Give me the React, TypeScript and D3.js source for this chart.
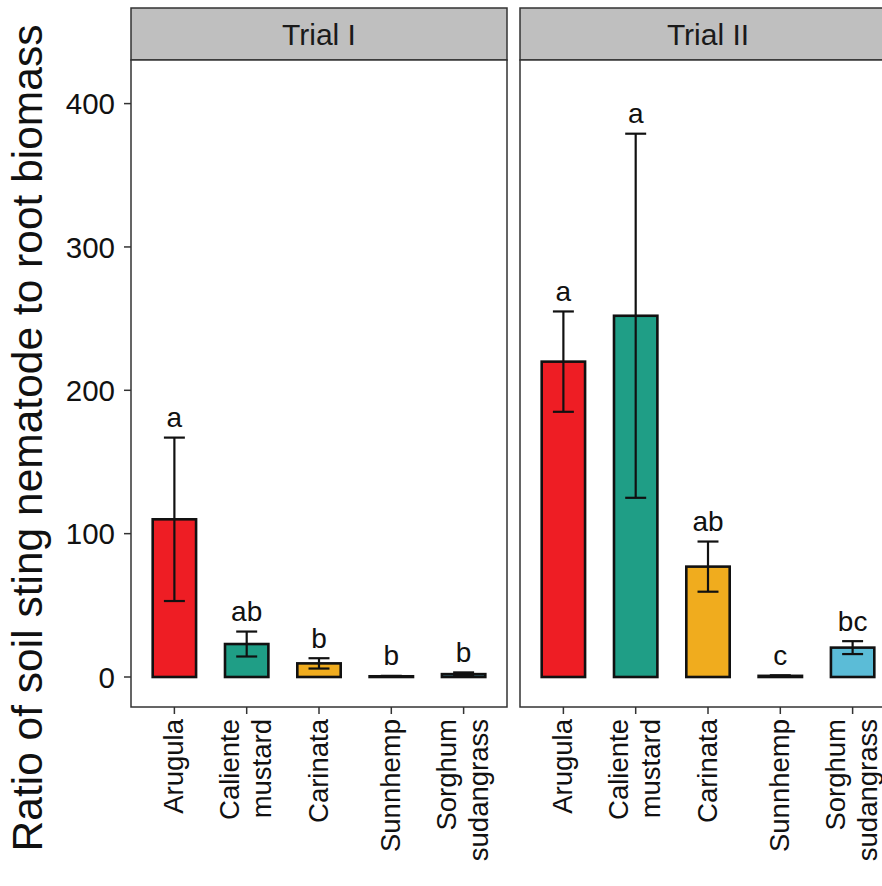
import React from "react";
import * as d3 from "d3";

const categories = ["Arugula", "Caliente mustard", "Carinata", "Sunnhemp", "Sorghum sudangrass"];
const categoryLines = [["Arugula"], ["Caliente", "mustard"], ["Carinata"], ["Sunnhemp"], ["Sorghum", "sudangrass"]];
const colors = ["#EE1D24", "#1F9E86", "#F0AC1E", "#3C3C3C", "#5BBCD7"];
const trials = ["Trial I", "Trial II"];
const trial1Means = [110, 23, 9.5, 0.5, 2];
const trial1SE = [57, 8.7, 3.6, 0.3, 1.2];
const trial1Letters = ["a", "ab", "b", "b", "b"];
const trial2Means = [220, 252, 77, 0.8, 20.5];
const trial2SE = [35, 127, 17.5, 0.4, 4.5];
const trial2Letters = ["a", "a", "ab", "c", "bc"];
const yTicks = [0, 100, 200, 300, 400];

const W = 882;
const H = 886;
const panelTop = 60;
const panelBottom = 707;
const stripTop = 8;
const panelW = 376;
const panelLefts = [131, 520];
const FONT = "'Liberation Sans', Arial, sans-serif";

export default function App() {
  const y = d3.scaleLinear().domain([0, 400]).range([677, 103.6]);
  const data = [
    { means: trial1Means, se: trial1SE, letters: trial1Letters },
    { means: trial2Means, se: trial2SE, letters: trial2Letters },
  ];
  return (
    <div>
      <style>{`body{margin:0;}`}</style>
      <svg width={W} height={H} style={{ display: "block" }} fontFamily={FONT}>
        <rect x={0} y={0} width={W} height={H} fill="#fff" />
        <text
          transform={`translate(42,438) rotate(-90)`}
          textAnchor="middle"
          fontSize={42.5}
          fill="#111"
        >
          Ratio of soil sting nematode to root biomass
        </text>
        {yTicks.map((t) => (
          <g key={t}>
            <line x1={124} x2={131} y1={y(t)} y2={y(t)} stroke="#333" strokeWidth={1.5} />
            <text x={115} y={y(t)} dy="0.36em" textAnchor="end" fontSize={29.5} fill="#111">
              {t}
            </text>
          </g>
        ))}
        {trials.map((trial, ti) => {
          const x0 = panelLefts[ti];
          const step = panelW / (categories.length - 1 + 1.2);
          const x = d3
            .scalePoint<string>()
            .domain(categories)
            .range([x0 + 0.6 * step, x0 + panelW - 0.6 * step]);
          const barW = 0.6 * step;
          const capW = 0.29 * step;
          const d = data[ti];
          return (
            <g key={trial}>
              <rect
                x={x0}
                y={stripTop}
                width={panelW}
                height={panelTop - stripTop}
                fill="#BFBFBF"
                stroke="#333"
                strokeWidth={1.5}
              />
              <text
                x={x0 + panelW / 2}
                y={(stripTop + panelTop) / 2}
                dy="0.36em"
                textAnchor="middle"
                fontSize={30}
                fill="#1a1a1a"
              >
                {trial}
              </text>
              <rect
                x={x0}
                y={panelTop}
                width={panelW}
                height={panelBottom - panelTop}
                fill="#fff"
                stroke="#333"
                strokeWidth={1.5}
              />
              {categories.map((c, i) => {
                const cx = x(c) as number;
                const m = d.means[i];
                const s = d.se[i];
                const top = m + s;
                return (
                  <g key={c}>
                    <rect
                      x={cx - barW / 2}
                      y={y(m)}
                      width={barW}
                      height={Math.max(0, y(0) - y(m))}
                      fill={colors[i]}
                      stroke="#111"
                      strokeWidth={2.6}
                    />
                    <line x1={cx} x2={cx} y1={y(m + s)} y2={y(m - s)} stroke="#111" strokeWidth={2.2} />
                    <line x1={cx - capW / 2} x2={cx + capW / 2} y1={y(m + s)} y2={y(m + s)} stroke="#111" strokeWidth={2.2} />
                    <line x1={cx - capW / 2} x2={cx + capW / 2} y1={y(m - s)} y2={y(m - s)} stroke="#111" strokeWidth={2.2} />
                    <text x={cx} y={y(top) - 10.5} textAnchor="middle" fontSize={28} fill="#111">
                      {d.letters[i]}
                    </text>
                    <line x1={cx} x2={cx} y1={panelBottom} y2={panelBottom + 7} stroke="#333" strokeWidth={1.5} />
                    {categoryLines[i].map((ln, li) => {
                      const nl = categoryLines[i].length;
                      const off = (li - (nl - 1) / 2) * 32 + 8.5;
                      return (
                        <text
                          key={ln}
                          transform={`translate(${cx + off},719) rotate(-90)`}
                          textAnchor="end"
                          fontSize={27.5}
                          fill="#111"
                        >
                          {ln}
                        </text>
                      );
                    })}
                  </g>
                );
              })}
            </g>
          );
        })}
      </svg>
    </div>
  );
}
